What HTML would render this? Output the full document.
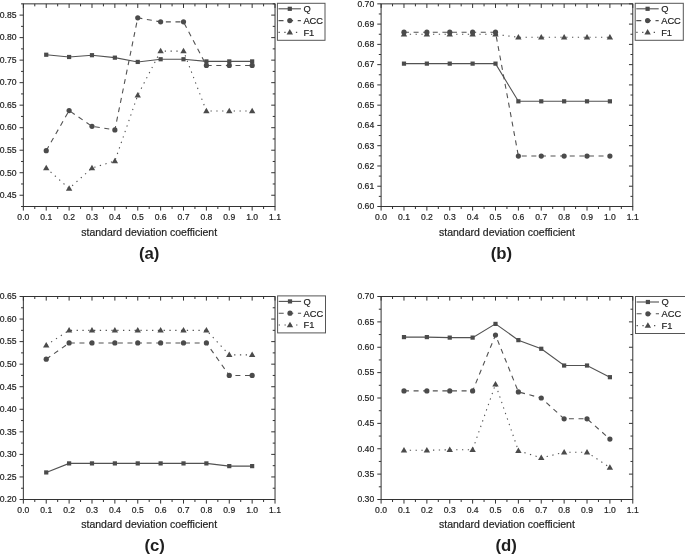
<!DOCTYPE html>
<html><head><meta charset="utf-8"><title>standard deviation coefficient</title>
<style>html,body{margin:0;padding:0;background:#fff}svg{display:block}text{font-family:"Liberation Sans",Arial,sans-serif}</style>
</head><body>
<svg width="685" height="555" viewBox="0 0 685 555">
<rect width="685" height="555" fill="#fff"/>
<rect x="23.35" y="3.85" width="251.68" height="202.65" fill="none" stroke="#333" stroke-width="1"/>
<path d="M23.35 206.50v4.1M23.35 3.85v4.1M34.79 206.50v2.5M34.79 3.85v2.5M46.23 206.50v4.1M46.23 3.85v4.1M57.67 206.50v2.5M57.67 3.85v2.5M69.11 206.50v4.1M69.11 3.85v4.1M80.55 206.50v2.5M80.55 3.85v2.5M91.99 206.50v4.1M91.99 3.85v4.1M103.43 206.50v2.5M103.43 3.85v2.5M114.87 206.50v4.1M114.87 3.85v4.1M126.31 206.50v2.5M126.31 3.85v2.5M137.75 206.50v4.1M137.75 3.85v4.1M149.19 206.50v2.5M149.19 3.85v2.5M160.63 206.50v4.1M160.63 3.85v4.1M172.07 206.50v2.5M172.07 3.85v2.5M183.51 206.50v4.1M183.51 3.85v4.1M194.95 206.50v2.5M194.95 3.85v2.5M206.39 206.50v4.1M206.39 3.85v4.1M217.83 206.50v2.5M217.83 3.85v2.5M229.27 206.50v4.1M229.27 3.85v4.1M240.71 206.50v2.5M240.71 3.85v2.5M252.15 206.50v4.1M252.15 3.85v4.1M263.59 206.50v2.5M263.59 3.85v2.5M275.03 206.50v4.1M275.03 3.85v4.1M23.35 206.50h-2.3M275.03 206.50h-2.3M23.35 195.24h-3.8M275.03 195.24h-3.8M23.35 183.98h-2.3M275.03 183.98h-2.3M23.35 172.72h-3.8M275.03 172.72h-3.8M23.35 161.47h-2.3M275.03 161.47h-2.3M23.35 150.21h-3.8M275.03 150.21h-3.8M23.35 138.95h-2.3M275.03 138.95h-2.3M23.35 127.69h-3.8M275.03 127.69h-3.8M23.35 116.43h-2.3M275.03 116.43h-2.3M23.35 105.17h-3.8M275.03 105.17h-3.8M23.35 93.92h-2.3M275.03 93.92h-2.3M23.35 82.66h-3.8M275.03 82.66h-3.8M23.35 71.40h-2.3M275.03 71.40h-2.3M23.35 60.14h-3.8M275.03 60.14h-3.8M23.35 48.88h-2.3M275.03 48.88h-2.3M23.35 37.62h-3.8M275.03 37.62h-3.8M23.35 26.37h-2.3M275.03 26.37h-2.3M23.35 15.11h-3.8M275.03 15.11h-3.8M23.35 3.85h-2.3M275.03 3.85h-2.3" fill="none" stroke="#333" stroke-width="1"/>
<g font-size="8.6" fill="#1f1f1f" stroke="#1f1f1f" stroke-width="0.2">
<text x="16.45" y="198.04" text-anchor="end">0.45</text>
<text x="16.45" y="175.53" text-anchor="end">0.50</text>
<text x="16.45" y="153.01" text-anchor="end">0.55</text>
<text x="16.45" y="130.49" text-anchor="end">0.60</text>
<text x="16.45" y="107.97" text-anchor="end">0.65</text>
<text x="16.45" y="85.46" text-anchor="end">0.70</text>
<text x="16.45" y="62.94" text-anchor="end">0.75</text>
<text x="16.45" y="40.42" text-anchor="end">0.80</text>
<text x="16.45" y="17.91" text-anchor="end">0.85</text>
<text x="23.35" y="219.90" text-anchor="middle">0.0</text>
<text x="46.23" y="219.90" text-anchor="middle">0.1</text>
<text x="69.11" y="219.90" text-anchor="middle">0.2</text>
<text x="91.99" y="219.90" text-anchor="middle">0.3</text>
<text x="114.87" y="219.90" text-anchor="middle">0.4</text>
<text x="137.75" y="219.90" text-anchor="middle">0.5</text>
<text x="160.63" y="219.90" text-anchor="middle">0.6</text>
<text x="183.51" y="219.90" text-anchor="middle">0.7</text>
<text x="206.39" y="219.90" text-anchor="middle">0.8</text>
<text x="229.27" y="219.90" text-anchor="middle">0.9</text>
<text x="252.15" y="219.90" text-anchor="middle">1.0</text>
<text x="275.03" y="219.90" text-anchor="middle">1.1</text>
</g>
<text x="149.19" y="235.90" text-anchor="middle" font-size="10.5" fill="#1f1f1f" stroke="#1f1f1f" stroke-width="0.2">standard deviation coefficient</text>
<text x="149.20" y="258.90" text-anchor="middle" font-size="16.8" font-weight="bold" fill="#1f1f1f">(a)</text>
<path d="M46.23 54.74L69.11 56.99L91.99 55.19L114.87 57.66L137.75 61.94L160.63 59.24L183.51 59.24L206.39 61.40L229.27 61.40L252.15 61.40" fill="none" stroke="#525252" stroke-width="1.1"/>
<rect x="44.13" y="52.64" width="4.2" height="4.2" fill="#4b4b4b"/>
<rect x="67.01" y="54.89" width="4.2" height="4.2" fill="#4b4b4b"/>
<rect x="89.89" y="53.09" width="4.2" height="4.2" fill="#4b4b4b"/>
<rect x="112.77" y="55.56" width="4.2" height="4.2" fill="#4b4b4b"/>
<rect x="135.65" y="59.84" width="4.2" height="4.2" fill="#4b4b4b"/>
<rect x="158.53" y="57.14" width="4.2" height="4.2" fill="#4b4b4b"/>
<rect x="181.41" y="57.14" width="4.2" height="4.2" fill="#4b4b4b"/>
<rect x="204.29" y="59.30" width="4.2" height="4.2" fill="#4b4b4b"/>
<rect x="227.17" y="59.30" width="4.2" height="4.2" fill="#4b4b4b"/>
<rect x="250.05" y="59.30" width="4.2" height="4.2" fill="#4b4b4b"/>
<path d="M46.23 150.66L69.11 110.58L91.99 126.34L114.87 129.94L137.75 17.81L160.63 21.86L183.51 21.86L206.39 65.46L229.27 65.46L252.15 65.46" fill="none" stroke="#525252" stroke-width="1.1" stroke-dasharray="5 4.6"/>
<circle cx="46.23" cy="150.66" r="2.6" fill="#4b4b4b"/>
<circle cx="69.11" cy="110.58" r="2.6" fill="#4b4b4b"/>
<circle cx="91.99" cy="126.34" r="2.6" fill="#4b4b4b"/>
<circle cx="114.87" cy="129.94" r="2.6" fill="#4b4b4b"/>
<circle cx="137.75" cy="17.81" r="2.6" fill="#4b4b4b"/>
<circle cx="160.63" cy="21.86" r="2.6" fill="#4b4b4b"/>
<circle cx="183.51" cy="21.86" r="2.6" fill="#4b4b4b"/>
<circle cx="206.39" cy="65.46" r="2.6" fill="#4b4b4b"/>
<circle cx="229.27" cy="65.46" r="2.6" fill="#4b4b4b"/>
<circle cx="252.15" cy="65.46" r="2.6" fill="#4b4b4b"/>
<path d="M46.23 168.00L69.11 188.49L91.99 168.00L114.87 161.02L137.75 95.27L160.63 51.13L183.51 51.13L206.39 111.03L229.27 111.03L252.15 111.03" fill="none" stroke="#525252" stroke-width="1.1" stroke-dasharray="1.3 4.5"/>
<path d="M46.23 164.70L49.43 170.20H43.03Z" fill="#4b4b4b"/>
<path d="M69.11 185.19L72.31 190.69H65.91Z" fill="#4b4b4b"/>
<path d="M91.99 164.70L95.19 170.20H88.79Z" fill="#4b4b4b"/>
<path d="M114.87 157.72L118.07 163.22H111.67Z" fill="#4b4b4b"/>
<path d="M137.75 91.97L140.95 97.47H134.55Z" fill="#4b4b4b"/>
<path d="M160.63 47.83L163.83 53.33H157.43Z" fill="#4b4b4b"/>
<path d="M183.51 47.83L186.71 53.33H180.31Z" fill="#4b4b4b"/>
<path d="M206.39 107.73L209.59 113.23H203.19Z" fill="#4b4b4b"/>
<path d="M229.27 107.73L232.47 113.23H226.07Z" fill="#4b4b4b"/>
<path d="M252.15 107.73L255.35 113.23H248.95Z" fill="#4b4b4b"/>
<rect x="277.40" y="3.30" width="47.6" height="37" fill="#fff" stroke="#555" stroke-width="1"/>
<path d="M278.50 8.80h22.4" fill="none" stroke="#525252" stroke-width="1.1"/>
<rect x="287.70" y="6.70" width="4.2" height="4.2" fill="#4b4b4b"/>
<text x="303.40" y="12.20" font-size="9.3" fill="#1f1f1f" stroke="#1f1f1f" stroke-width="0.2">Q</text>
<path d="M278.50 20.60h22.4" fill="none" stroke="#525252" stroke-width="1.1" stroke-dasharray="5 4.6"/>
<circle cx="289.80" cy="20.60" r="2.6" fill="#4b4b4b"/>
<text x="303.40" y="24.00" font-size="9.3" fill="#1f1f1f" stroke="#1f1f1f" stroke-width="0.2">ACC</text>
<path d="M278.50 32.40h22.4" fill="none" stroke="#525252" stroke-width="1.1" stroke-dasharray="1.3 4.5"/>
<path d="M289.80 29.10L293.00 34.60H286.60Z" fill="#4b4b4b"/>
<text x="303.40" y="35.80" font-size="9.3" fill="#1f1f1f" stroke="#1f1f1f" stroke-width="0.2">F1</text>
<rect x="381.10" y="3.85" width="251.68" height="202.65" fill="none" stroke="#333" stroke-width="1"/>
<path d="M381.10 206.50v4.1M381.10 3.85v4.1M392.54 206.50v2.5M392.54 3.85v2.5M403.98 206.50v4.1M403.98 3.85v4.1M415.42 206.50v2.5M415.42 3.85v2.5M426.86 206.50v4.1M426.86 3.85v4.1M438.30 206.50v2.5M438.30 3.85v2.5M449.74 206.50v4.1M449.74 3.85v4.1M461.18 206.50v2.5M461.18 3.85v2.5M472.62 206.50v4.1M472.62 3.85v4.1M484.06 206.50v2.5M484.06 3.85v2.5M495.50 206.50v4.1M495.50 3.85v4.1M506.94 206.50v2.5M506.94 3.85v2.5M518.38 206.50v4.1M518.38 3.85v4.1M529.82 206.50v2.5M529.82 3.85v2.5M541.26 206.50v4.1M541.26 3.85v4.1M552.70 206.50v2.5M552.70 3.85v2.5M564.14 206.50v4.1M564.14 3.85v4.1M575.58 206.50v2.5M575.58 3.85v2.5M587.02 206.50v4.1M587.02 3.85v4.1M598.46 206.50v2.5M598.46 3.85v2.5M609.90 206.50v4.1M609.90 3.85v4.1M621.34 206.50v2.5M621.34 3.85v2.5M632.78 206.50v4.1M632.78 3.85v4.1M381.10 206.50h-3.8M632.78 206.50h-3.8M381.10 196.37h-2.3M632.78 196.37h-2.3M381.10 186.23h-3.8M632.78 186.23h-3.8M381.10 176.10h-2.3M632.78 176.10h-2.3M381.10 165.97h-3.8M632.78 165.97h-3.8M381.10 155.84h-2.3M632.78 155.84h-2.3M381.10 145.70h-3.8M632.78 145.70h-3.8M381.10 135.57h-2.3M632.78 135.57h-2.3M381.10 125.44h-3.8M632.78 125.44h-3.8M381.10 115.31h-2.3M632.78 115.31h-2.3M381.10 105.17h-3.8M632.78 105.17h-3.8M381.10 95.04h-2.3M632.78 95.04h-2.3M381.10 84.91h-3.8M632.78 84.91h-3.8M381.10 74.78h-2.3M632.78 74.78h-2.3M381.10 64.64h-3.8M632.78 64.64h-3.8M381.10 54.51h-2.3M632.78 54.51h-2.3M381.10 44.38h-3.8M632.78 44.38h-3.8M381.10 34.25h-2.3M632.78 34.25h-2.3M381.10 24.11h-3.8M632.78 24.11h-3.8M381.10 13.98h-2.3M632.78 13.98h-2.3M381.10 3.85h-3.8M632.78 3.85h-3.8" fill="none" stroke="#333" stroke-width="1"/>
<g font-size="8.6" fill="#1f1f1f" stroke="#1f1f1f" stroke-width="0.2">
<text x="374.20" y="209.30" text-anchor="end">0.60</text>
<text x="374.20" y="189.03" text-anchor="end">0.61</text>
<text x="374.20" y="168.77" text-anchor="end">0.62</text>
<text x="374.20" y="148.50" text-anchor="end">0.63</text>
<text x="374.20" y="128.24" text-anchor="end">0.64</text>
<text x="374.20" y="107.97" text-anchor="end">0.65</text>
<text x="374.20" y="87.71" text-anchor="end">0.66</text>
<text x="374.20" y="67.44" text-anchor="end">0.67</text>
<text x="374.20" y="47.18" text-anchor="end">0.68</text>
<text x="374.20" y="26.91" text-anchor="end">0.69</text>
<text x="374.20" y="6.65" text-anchor="end">0.70</text>
<text x="381.10" y="219.90" text-anchor="middle">0.0</text>
<text x="403.98" y="219.90" text-anchor="middle">0.1</text>
<text x="426.86" y="219.90" text-anchor="middle">0.2</text>
<text x="449.74" y="219.90" text-anchor="middle">0.3</text>
<text x="472.62" y="219.90" text-anchor="middle">0.4</text>
<text x="495.50" y="219.90" text-anchor="middle">0.5</text>
<text x="518.38" y="219.90" text-anchor="middle">0.6</text>
<text x="541.26" y="219.90" text-anchor="middle">0.7</text>
<text x="564.14" y="219.90" text-anchor="middle">0.8</text>
<text x="587.02" y="219.90" text-anchor="middle">0.9</text>
<text x="609.90" y="219.90" text-anchor="middle">1.0</text>
<text x="632.78" y="219.90" text-anchor="middle">1.1</text>
</g>
<text x="506.94" y="235.90" text-anchor="middle" font-size="10.5" fill="#1f1f1f" stroke="#1f1f1f" stroke-width="0.2">standard deviation coefficient</text>
<text x="501.50" y="258.90" text-anchor="middle" font-size="16.8" font-weight="bold" fill="#1f1f1f">(b)</text>
<path d="M403.98 63.63L426.86 63.63L449.74 63.63L472.62 63.63L495.50 63.63L518.38 101.32L541.26 101.32L564.14 101.32L587.02 101.32L609.90 101.32" fill="none" stroke="#525252" stroke-width="1.1"/>
<rect x="401.88" y="61.53" width="4.2" height="4.2" fill="#4b4b4b"/>
<rect x="424.76" y="61.53" width="4.2" height="4.2" fill="#4b4b4b"/>
<rect x="447.64" y="61.53" width="4.2" height="4.2" fill="#4b4b4b"/>
<rect x="470.52" y="61.53" width="4.2" height="4.2" fill="#4b4b4b"/>
<rect x="493.40" y="61.53" width="4.2" height="4.2" fill="#4b4b4b"/>
<rect x="516.28" y="99.22" width="4.2" height="4.2" fill="#4b4b4b"/>
<rect x="539.16" y="99.22" width="4.2" height="4.2" fill="#4b4b4b"/>
<rect x="562.04" y="99.22" width="4.2" height="4.2" fill="#4b4b4b"/>
<rect x="584.92" y="99.22" width="4.2" height="4.2" fill="#4b4b4b"/>
<rect x="607.80" y="99.22" width="4.2" height="4.2" fill="#4b4b4b"/>
<path d="M403.98 32.22L426.86 32.22L449.74 32.22L472.62 32.22L495.50 32.22L518.38 156.04L541.26 156.04L564.14 156.04L587.02 156.04L609.90 156.04" fill="none" stroke="#525252" stroke-width="1.1" stroke-dasharray="5 4.6"/>
<circle cx="403.98" cy="32.22" r="2.6" fill="#4b4b4b"/>
<circle cx="426.86" cy="32.22" r="2.6" fill="#4b4b4b"/>
<circle cx="449.74" cy="32.22" r="2.6" fill="#4b4b4b"/>
<circle cx="472.62" cy="32.22" r="2.6" fill="#4b4b4b"/>
<circle cx="495.50" cy="32.22" r="2.6" fill="#4b4b4b"/>
<circle cx="518.38" cy="156.04" r="2.6" fill="#4b4b4b"/>
<circle cx="541.26" cy="156.04" r="2.6" fill="#4b4b4b"/>
<circle cx="564.14" cy="156.04" r="2.6" fill="#4b4b4b"/>
<circle cx="587.02" cy="156.04" r="2.6" fill="#4b4b4b"/>
<circle cx="609.90" cy="156.04" r="2.6" fill="#4b4b4b"/>
<path d="M403.98 34.25L426.86 34.25L449.74 34.25L472.62 34.25L495.50 34.25L518.38 37.29L541.26 37.29L564.14 37.29L587.02 37.29L609.90 37.29" fill="none" stroke="#525252" stroke-width="1.1" stroke-dasharray="1.3 4.5"/>
<path d="M403.98 30.95L407.18 36.45H400.78Z" fill="#4b4b4b"/>
<path d="M426.86 30.95L430.06 36.45H423.66Z" fill="#4b4b4b"/>
<path d="M449.74 30.95L452.94 36.45H446.54Z" fill="#4b4b4b"/>
<path d="M472.62 30.95L475.82 36.45H469.42Z" fill="#4b4b4b"/>
<path d="M495.50 30.95L498.70 36.45H492.30Z" fill="#4b4b4b"/>
<path d="M518.38 33.99L521.58 39.49H515.18Z" fill="#4b4b4b"/>
<path d="M541.26 33.99L544.46 39.49H538.06Z" fill="#4b4b4b"/>
<path d="M564.14 33.99L567.34 39.49H560.94Z" fill="#4b4b4b"/>
<path d="M587.02 33.99L590.22 39.49H583.82Z" fill="#4b4b4b"/>
<path d="M609.90 33.99L613.10 39.49H606.70Z" fill="#4b4b4b"/>
<rect x="635.20" y="3.30" width="48.1" height="37" fill="#fff" stroke="#555" stroke-width="1"/>
<path d="M636.30 8.80h22.4" fill="none" stroke="#525252" stroke-width="1.1"/>
<rect x="645.50" y="6.70" width="4.2" height="4.2" fill="#4b4b4b"/>
<text x="661.20" y="12.20" font-size="9.3" fill="#1f1f1f" stroke="#1f1f1f" stroke-width="0.2">Q</text>
<path d="M636.30 20.60h22.4" fill="none" stroke="#525252" stroke-width="1.1" stroke-dasharray="5 4.6"/>
<circle cx="647.60" cy="20.60" r="2.6" fill="#4b4b4b"/>
<text x="661.20" y="24.00" font-size="9.3" fill="#1f1f1f" stroke="#1f1f1f" stroke-width="0.2">ACC</text>
<path d="M636.30 32.40h22.4" fill="none" stroke="#525252" stroke-width="1.1" stroke-dasharray="1.3 4.5"/>
<path d="M647.60 29.10L650.80 34.60H644.40Z" fill="#4b4b4b"/>
<text x="661.20" y="35.80" font-size="9.3" fill="#1f1f1f" stroke="#1f1f1f" stroke-width="0.2">F1</text>
<rect x="23.35" y="296.50" width="251.68" height="203.00" fill="none" stroke="#333" stroke-width="1"/>
<path d="M23.35 499.50v4.1M23.35 296.50v4.1M34.79 499.50v2.5M34.79 296.50v2.5M46.23 499.50v4.1M46.23 296.50v4.1M57.67 499.50v2.5M57.67 296.50v2.5M69.11 499.50v4.1M69.11 296.50v4.1M80.55 499.50v2.5M80.55 296.50v2.5M91.99 499.50v4.1M91.99 296.50v4.1M103.43 499.50v2.5M103.43 296.50v2.5M114.87 499.50v4.1M114.87 296.50v4.1M126.31 499.50v2.5M126.31 296.50v2.5M137.75 499.50v4.1M137.75 296.50v4.1M149.19 499.50v2.5M149.19 296.50v2.5M160.63 499.50v4.1M160.63 296.50v4.1M172.07 499.50v2.5M172.07 296.50v2.5M183.51 499.50v4.1M183.51 296.50v4.1M194.95 499.50v2.5M194.95 296.50v2.5M206.39 499.50v4.1M206.39 296.50v4.1M217.83 499.50v2.5M217.83 296.50v2.5M229.27 499.50v4.1M229.27 296.50v4.1M240.71 499.50v2.5M240.71 296.50v2.5M252.15 499.50v4.1M252.15 296.50v4.1M263.59 499.50v2.5M263.59 296.50v2.5M275.03 499.50v4.1M275.03 296.50v4.1M23.35 499.50h-3.8M275.03 499.50h-3.8M23.35 488.22h-2.3M275.03 488.22h-2.3M23.35 476.94h-3.8M275.03 476.94h-3.8M23.35 465.67h-2.3M275.03 465.67h-2.3M23.35 454.39h-3.8M275.03 454.39h-3.8M23.35 443.11h-2.3M275.03 443.11h-2.3M23.35 431.83h-3.8M275.03 431.83h-3.8M23.35 420.56h-2.3M275.03 420.56h-2.3M23.35 409.28h-3.8M275.03 409.28h-3.8M23.35 398.00h-2.3M275.03 398.00h-2.3M23.35 386.72h-3.8M275.03 386.72h-3.8M23.35 375.44h-2.3M275.03 375.44h-2.3M23.35 364.17h-3.8M275.03 364.17h-3.8M23.35 352.89h-2.3M275.03 352.89h-2.3M23.35 341.61h-3.8M275.03 341.61h-3.8M23.35 330.33h-2.3M275.03 330.33h-2.3M23.35 319.06h-3.8M275.03 319.06h-3.8M23.35 307.78h-2.3M275.03 307.78h-2.3M23.35 296.50h-3.8M275.03 296.50h-3.8" fill="none" stroke="#333" stroke-width="1"/>
<g font-size="8.6" fill="#1f1f1f" stroke="#1f1f1f" stroke-width="0.2">
<text x="16.45" y="502.30" text-anchor="end">0.20</text>
<text x="16.45" y="479.74" text-anchor="end">0.25</text>
<text x="16.45" y="457.19" text-anchor="end">0.30</text>
<text x="16.45" y="434.63" text-anchor="end">0.35</text>
<text x="16.45" y="412.08" text-anchor="end">0.40</text>
<text x="16.45" y="389.52" text-anchor="end">0.45</text>
<text x="16.45" y="366.97" text-anchor="end">0.50</text>
<text x="16.45" y="344.41" text-anchor="end">0.55</text>
<text x="16.45" y="321.86" text-anchor="end">0.60</text>
<text x="16.45" y="299.30" text-anchor="end">0.65</text>
<text x="23.35" y="512.90" text-anchor="middle">0.0</text>
<text x="46.23" y="512.90" text-anchor="middle">0.1</text>
<text x="69.11" y="512.90" text-anchor="middle">0.2</text>
<text x="91.99" y="512.90" text-anchor="middle">0.3</text>
<text x="114.87" y="512.90" text-anchor="middle">0.4</text>
<text x="137.75" y="512.90" text-anchor="middle">0.5</text>
<text x="160.63" y="512.90" text-anchor="middle">0.6</text>
<text x="183.51" y="512.90" text-anchor="middle">0.7</text>
<text x="206.39" y="512.90" text-anchor="middle">0.8</text>
<text x="229.27" y="512.90" text-anchor="middle">0.9</text>
<text x="252.15" y="512.90" text-anchor="middle">1.0</text>
<text x="275.03" y="512.90" text-anchor="middle">1.1</text>
</g>
<text x="149.19" y="528.20" text-anchor="middle" font-size="10.5" fill="#1f1f1f" stroke="#1f1f1f" stroke-width="0.2">standard deviation coefficient</text>
<text x="154.70" y="550.50" text-anchor="middle" font-size="16.8" font-weight="bold" fill="#1f1f1f">(c)</text>
<path d="M46.23 472.43L69.11 463.41L91.99 463.41L114.87 463.41L137.75 463.41L160.63 463.41L183.51 463.41L206.39 463.41L229.27 466.12L252.15 466.12" fill="none" stroke="#525252" stroke-width="1.1"/>
<rect x="44.13" y="470.33" width="4.2" height="4.2" fill="#4b4b4b"/>
<rect x="67.01" y="461.31" width="4.2" height="4.2" fill="#4b4b4b"/>
<rect x="89.89" y="461.31" width="4.2" height="4.2" fill="#4b4b4b"/>
<rect x="112.77" y="461.31" width="4.2" height="4.2" fill="#4b4b4b"/>
<rect x="135.65" y="461.31" width="4.2" height="4.2" fill="#4b4b4b"/>
<rect x="158.53" y="461.31" width="4.2" height="4.2" fill="#4b4b4b"/>
<rect x="181.41" y="461.31" width="4.2" height="4.2" fill="#4b4b4b"/>
<rect x="204.29" y="461.31" width="4.2" height="4.2" fill="#4b4b4b"/>
<rect x="227.17" y="464.02" width="4.2" height="4.2" fill="#4b4b4b"/>
<rect x="250.05" y="464.02" width="4.2" height="4.2" fill="#4b4b4b"/>
<path d="M46.23 359.20L69.11 342.96L91.99 342.96L114.87 342.96L137.75 342.96L160.63 342.96L183.51 342.96L206.39 342.96L229.27 375.44L252.15 375.44" fill="none" stroke="#525252" stroke-width="1.1" stroke-dasharray="5 4.6"/>
<circle cx="46.23" cy="359.20" r="2.6" fill="#4b4b4b"/>
<circle cx="69.11" cy="342.96" r="2.6" fill="#4b4b4b"/>
<circle cx="91.99" cy="342.96" r="2.6" fill="#4b4b4b"/>
<circle cx="114.87" cy="342.96" r="2.6" fill="#4b4b4b"/>
<circle cx="137.75" cy="342.96" r="2.6" fill="#4b4b4b"/>
<circle cx="160.63" cy="342.96" r="2.6" fill="#4b4b4b"/>
<circle cx="183.51" cy="342.96" r="2.6" fill="#4b4b4b"/>
<circle cx="206.39" cy="342.96" r="2.6" fill="#4b4b4b"/>
<circle cx="229.27" cy="375.44" r="2.6" fill="#4b4b4b"/>
<circle cx="252.15" cy="375.44" r="2.6" fill="#4b4b4b"/>
<path d="M46.23 345.22L69.11 330.33L91.99 330.33L114.87 330.33L137.75 330.33L160.63 330.33L183.51 330.33L206.39 330.33L229.27 354.92L252.15 354.92" fill="none" stroke="#525252" stroke-width="1.1" stroke-dasharray="1.3 4.5"/>
<path d="M46.23 341.92L49.43 347.42H43.03Z" fill="#4b4b4b"/>
<path d="M69.11 327.03L72.31 332.53H65.91Z" fill="#4b4b4b"/>
<path d="M91.99 327.03L95.19 332.53H88.79Z" fill="#4b4b4b"/>
<path d="M114.87 327.03L118.07 332.53H111.67Z" fill="#4b4b4b"/>
<path d="M137.75 327.03L140.95 332.53H134.55Z" fill="#4b4b4b"/>
<path d="M160.63 327.03L163.83 332.53H157.43Z" fill="#4b4b4b"/>
<path d="M183.51 327.03L186.71 332.53H180.31Z" fill="#4b4b4b"/>
<path d="M206.39 327.03L209.59 332.53H203.19Z" fill="#4b4b4b"/>
<path d="M229.27 351.62L232.47 357.12H226.07Z" fill="#4b4b4b"/>
<path d="M252.15 351.62L255.35 357.12H248.95Z" fill="#4b4b4b"/>
<rect x="277.60" y="295.90" width="47.9" height="37" fill="#fff" stroke="#555" stroke-width="1"/>
<path d="M278.70 301.40h22.4" fill="none" stroke="#525252" stroke-width="1.1"/>
<rect x="287.90" y="299.30" width="4.2" height="4.2" fill="#4b4b4b"/>
<text x="303.60" y="304.80" font-size="9.3" fill="#1f1f1f" stroke="#1f1f1f" stroke-width="0.2">Q</text>
<path d="M278.70 313.20h22.4" fill="none" stroke="#525252" stroke-width="1.1" stroke-dasharray="5 4.6"/>
<circle cx="290.00" cy="313.20" r="2.6" fill="#4b4b4b"/>
<text x="303.60" y="316.60" font-size="9.3" fill="#1f1f1f" stroke="#1f1f1f" stroke-width="0.2">ACC</text>
<path d="M278.70 325.00h22.4" fill="none" stroke="#525252" stroke-width="1.1" stroke-dasharray="1.3 4.5"/>
<path d="M290.00 321.70L293.20 327.20H286.80Z" fill="#4b4b4b"/>
<text x="303.60" y="328.40" font-size="9.3" fill="#1f1f1f" stroke="#1f1f1f" stroke-width="0.2">F1</text>
<rect x="381.10" y="296.50" width="251.68" height="203.00" fill="none" stroke="#333" stroke-width="1"/>
<path d="M381.10 499.50v4.1M381.10 296.50v4.1M392.54 499.50v2.5M392.54 296.50v2.5M403.98 499.50v4.1M403.98 296.50v4.1M415.42 499.50v2.5M415.42 296.50v2.5M426.86 499.50v4.1M426.86 296.50v4.1M438.30 499.50v2.5M438.30 296.50v2.5M449.74 499.50v4.1M449.74 296.50v4.1M461.18 499.50v2.5M461.18 296.50v2.5M472.62 499.50v4.1M472.62 296.50v4.1M484.06 499.50v2.5M484.06 296.50v2.5M495.50 499.50v4.1M495.50 296.50v4.1M506.94 499.50v2.5M506.94 296.50v2.5M518.38 499.50v4.1M518.38 296.50v4.1M529.82 499.50v2.5M529.82 296.50v2.5M541.26 499.50v4.1M541.26 296.50v4.1M552.70 499.50v2.5M552.70 296.50v2.5M564.14 499.50v4.1M564.14 296.50v4.1M575.58 499.50v2.5M575.58 296.50v2.5M587.02 499.50v4.1M587.02 296.50v4.1M598.46 499.50v2.5M598.46 296.50v2.5M609.90 499.50v4.1M609.90 296.50v4.1M621.34 499.50v2.5M621.34 296.50v2.5M632.78 499.50v4.1M632.78 296.50v4.1M381.10 499.50h-3.8M632.78 499.50h-3.8M381.10 486.81h-2.3M632.78 486.81h-2.3M381.10 474.12h-3.8M632.78 474.12h-3.8M381.10 461.44h-2.3M632.78 461.44h-2.3M381.10 448.75h-3.8M632.78 448.75h-3.8M381.10 436.06h-2.3M632.78 436.06h-2.3M381.10 423.38h-3.8M632.78 423.38h-3.8M381.10 410.69h-2.3M632.78 410.69h-2.3M381.10 398.00h-3.8M632.78 398.00h-3.8M381.10 385.31h-2.3M632.78 385.31h-2.3M381.10 372.62h-3.8M632.78 372.62h-3.8M381.10 359.94h-2.3M632.78 359.94h-2.3M381.10 347.25h-3.8M632.78 347.25h-3.8M381.10 334.56h-2.3M632.78 334.56h-2.3M381.10 321.88h-3.8M632.78 321.88h-3.8M381.10 309.19h-2.3M632.78 309.19h-2.3M381.10 296.50h-3.8M632.78 296.50h-3.8" fill="none" stroke="#333" stroke-width="1"/>
<g font-size="8.6" fill="#1f1f1f" stroke="#1f1f1f" stroke-width="0.2">
<text x="374.20" y="502.30" text-anchor="end">0.30</text>
<text x="374.20" y="476.93" text-anchor="end">0.35</text>
<text x="374.20" y="451.55" text-anchor="end">0.40</text>
<text x="374.20" y="426.18" text-anchor="end">0.45</text>
<text x="374.20" y="400.80" text-anchor="end">0.50</text>
<text x="374.20" y="375.42" text-anchor="end">0.55</text>
<text x="374.20" y="350.05" text-anchor="end">0.60</text>
<text x="374.20" y="324.68" text-anchor="end">0.65</text>
<text x="374.20" y="299.30" text-anchor="end">0.70</text>
<text x="381.10" y="512.90" text-anchor="middle">0.0</text>
<text x="403.98" y="512.90" text-anchor="middle">0.1</text>
<text x="426.86" y="512.90" text-anchor="middle">0.2</text>
<text x="449.74" y="512.90" text-anchor="middle">0.3</text>
<text x="472.62" y="512.90" text-anchor="middle">0.4</text>
<text x="495.50" y="512.90" text-anchor="middle">0.5</text>
<text x="518.38" y="512.90" text-anchor="middle">0.6</text>
<text x="541.26" y="512.90" text-anchor="middle">0.7</text>
<text x="564.14" y="512.90" text-anchor="middle">0.8</text>
<text x="587.02" y="512.90" text-anchor="middle">0.9</text>
<text x="609.90" y="512.90" text-anchor="middle">1.0</text>
<text x="632.78" y="512.90" text-anchor="middle">1.1</text>
</g>
<text x="506.94" y="528.20" text-anchor="middle" font-size="10.5" fill="#1f1f1f" stroke="#1f1f1f" stroke-width="0.2">standard deviation coefficient</text>
<text x="506.20" y="550.50" text-anchor="middle" font-size="16.8" font-weight="bold" fill="#1f1f1f">(d)</text>
<path d="M403.98 337.10L426.86 337.10L449.74 337.61L472.62 337.61L495.50 323.90L518.38 340.14L541.26 348.77L564.14 365.52L587.02 365.52L609.90 377.19" fill="none" stroke="#525252" stroke-width="1.1"/>
<rect x="401.88" y="335.00" width="4.2" height="4.2" fill="#4b4b4b"/>
<rect x="424.76" y="335.00" width="4.2" height="4.2" fill="#4b4b4b"/>
<rect x="447.64" y="335.51" width="4.2" height="4.2" fill="#4b4b4b"/>
<rect x="470.52" y="335.51" width="4.2" height="4.2" fill="#4b4b4b"/>
<rect x="493.40" y="321.80" width="4.2" height="4.2" fill="#4b4b4b"/>
<rect x="516.28" y="338.04" width="4.2" height="4.2" fill="#4b4b4b"/>
<rect x="539.16" y="346.67" width="4.2" height="4.2" fill="#4b4b4b"/>
<rect x="562.04" y="363.42" width="4.2" height="4.2" fill="#4b4b4b"/>
<rect x="584.92" y="363.42" width="4.2" height="4.2" fill="#4b4b4b"/>
<rect x="607.80" y="375.09" width="4.2" height="4.2" fill="#4b4b4b"/>
<path d="M403.98 390.89L426.86 390.89L449.74 390.89L472.62 390.89L495.50 335.07L518.38 391.91L541.26 398.00L564.14 418.81L587.02 418.81L609.90 439.11" fill="none" stroke="#525252" stroke-width="1.1" stroke-dasharray="5 4.6"/>
<circle cx="403.98" cy="390.89" r="2.6" fill="#4b4b4b"/>
<circle cx="426.86" cy="390.89" r="2.6" fill="#4b4b4b"/>
<circle cx="449.74" cy="390.89" r="2.6" fill="#4b4b4b"/>
<circle cx="472.62" cy="390.89" r="2.6" fill="#4b4b4b"/>
<circle cx="495.50" cy="335.07" r="2.6" fill="#4b4b4b"/>
<circle cx="518.38" cy="391.91" r="2.6" fill="#4b4b4b"/>
<circle cx="541.26" cy="398.00" r="2.6" fill="#4b4b4b"/>
<circle cx="564.14" cy="418.81" r="2.6" fill="#4b4b4b"/>
<circle cx="587.02" cy="418.81" r="2.6" fill="#4b4b4b"/>
<circle cx="609.90" cy="439.11" r="2.6" fill="#4b4b4b"/>
<path d="M403.98 450.27L426.86 450.27L449.74 449.76L472.62 449.76L495.50 384.30L518.38 450.78L541.26 457.88L564.14 452.30L587.02 452.30L609.90 467.53" fill="none" stroke="#525252" stroke-width="1.1" stroke-dasharray="1.3 4.5"/>
<path d="M403.98 446.97L407.18 452.47H400.78Z" fill="#4b4b4b"/>
<path d="M426.86 446.97L430.06 452.47H423.66Z" fill="#4b4b4b"/>
<path d="M449.74 446.46L452.94 451.96H446.54Z" fill="#4b4b4b"/>
<path d="M472.62 446.46L475.82 451.96H469.42Z" fill="#4b4b4b"/>
<path d="M495.50 381.00L498.70 386.50H492.30Z" fill="#4b4b4b"/>
<path d="M518.38 447.48L521.58 452.98H515.18Z" fill="#4b4b4b"/>
<path d="M541.26 454.58L544.46 460.08H538.06Z" fill="#4b4b4b"/>
<path d="M564.14 449.00L567.34 454.50H560.94Z" fill="#4b4b4b"/>
<path d="M587.02 449.00L590.22 454.50H583.82Z" fill="#4b4b4b"/>
<path d="M609.90 464.23L613.10 469.73H606.70Z" fill="#4b4b4b"/>
<rect x="635.50" y="296.50" width="52" height="37" fill="#fff" stroke="#555" stroke-width="1"/>
<path d="M636.60 302.00h22.4" fill="none" stroke="#525252" stroke-width="1.1"/>
<rect x="645.80" y="299.90" width="4.2" height="4.2" fill="#4b4b4b"/>
<text x="661.50" y="305.40" font-size="9.3" fill="#1f1f1f" stroke="#1f1f1f" stroke-width="0.2">Q</text>
<path d="M636.60 313.80h22.4" fill="none" stroke="#525252" stroke-width="1.1" stroke-dasharray="5 4.6"/>
<circle cx="647.90" cy="313.80" r="2.6" fill="#4b4b4b"/>
<text x="661.50" y="317.20" font-size="9.3" fill="#1f1f1f" stroke="#1f1f1f" stroke-width="0.2">ACC</text>
<path d="M636.60 325.60h22.4" fill="none" stroke="#525252" stroke-width="1.1" stroke-dasharray="1.3 4.5"/>
<path d="M647.90 322.30L651.10 327.80H644.70Z" fill="#4b4b4b"/>
<text x="661.50" y="329.00" font-size="9.3" fill="#1f1f1f" stroke="#1f1f1f" stroke-width="0.2">F1</text>
</svg>
</body></html>
